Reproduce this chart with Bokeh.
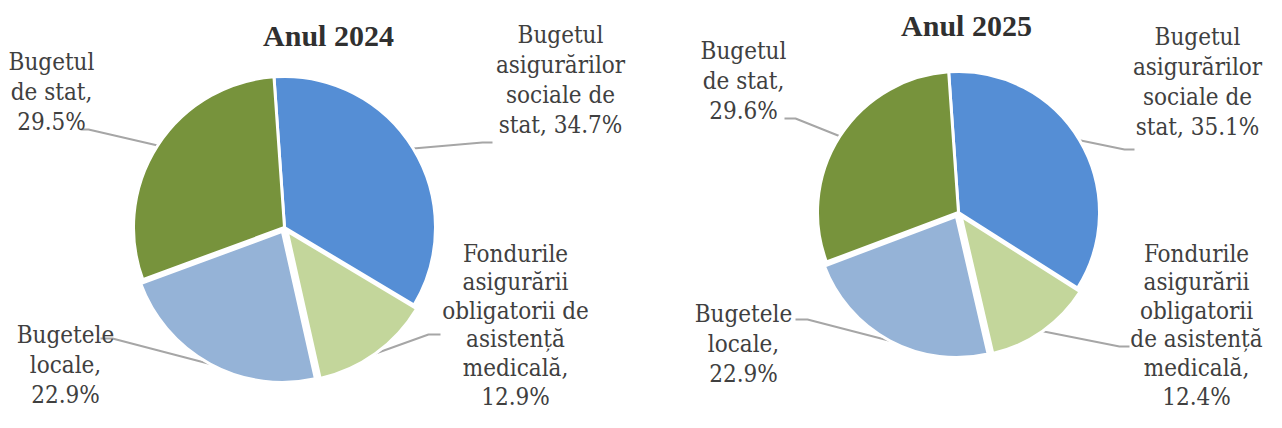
import numpy as np
from bokeh.plotting import figure
from bokeh.models import ColumnDataSource, Range1d
from bokeh.embed import file_html
from bokeh.resources import INLINE
from bokeh.core.properties import value

# ---------------- data ----------------
categories = [
    "Bugetul asigurărilor sociale de stat",
    "Fondurile asigurării obligatorii de asistență medicală",
    "Bugetele locale",
    "Bugetul de stat",
]
years = ["Anul 2024", "Anul 2025"]
shares_2024 = [34.7, 12.9, 22.9, 29.5]
shares_2025 = [35.1, 12.4, 22.9, 29.6]
colors = ["#558ED5", "#C3D69B", "#95B3D7", "#77933C"]
labels_2024 = [
    "Bugetul\nasigurărilor\nsociale de\nstat, ",
    "Fondurile\nasigurării\nobligatorii de\nasistență\nmedicală,\n",
    "Bugetele\nlocale,\n",
    "Bugetul\nde stat,\n",
]
labels_2025 = [
    "Bugetul\nasigurărilor\nsociale de\nstat, ",
    "Fondurile\nasigurării\nobligatorii\nde asistență\nmedicală,\n",
    "Bugetele\nlocale,\n",
    "Bugetul\nde stat,\n",
]

# ---------------- layout (screen pixel coordinates inside the figure) ----------------
W, H = 1266, 412
def Y(sy):
    return H - sy

LABEL_FONT = "DejaVu Serif Condensed, DejaVu Serif"

layout = [
    dict(cx=284, cy=227, r=151, rot=4.0, explode=[0, 4.5, 4.5, 0],
         title=(328, 35),
         label_pos=[(560, 34, 30), (515, 253, 28.6), (65, 334, 30), (51, 61, 30)],
         anchors=[[(492, 142), (482, 142)], [(440, 334), (428, 334)],
                  [(100, 338), (112, 338)], [(80, 129), (88, 129)]]),
    dict(cx=958, cy=212, r=141, rot=4.0, explode=[0, 4.5, 4.5, 0],
         title=(966, 25),
         label_pos=[(1197, 36, 30), (1196, 253, 28.6), (743, 313, 30), (743, 50, 30)],
         anchors=[[(1134, 149), (1124, 149)], [(1129, 346), (1119, 346)],
                  [(795, 319), (807, 319)], [(784, 118), (795, 118)]]),
]

p = figure(width=W, height=H, output_backend="svg", toolbar_location=None,
           x_range=Range1d(0, W), y_range=Range1d(0, H),
           min_border=0, outline_line_color=None, background_fill_color="white")
p.xaxis.visible = False
p.yaxis.visible = False
p.xgrid.visible = False
p.ygrid.visible = False

for shares, labels, lay, year in zip([shares_2024, shares_2025],
                                     [labels_2024, labels_2025], layout, years):
    vals = np.array(shares, dtype=float)
    frac = vals / vals.sum()
    cum_end = np.cumsum(frac)
    cum_start = cum_end - frac
    phi_start = cum_start * 360 - lay["rot"]
    phi_end = cum_end * 360 - lay["rot"]
    phi_mid = (phi_start + phi_end) / 2
    dx = np.sin(np.radians(phi_mid))
    dy = np.cos(np.radians(phi_mid))
    ex = np.array(lay["explode"], dtype=float)
    cxs = lay["cx"] + ex * dx
    cys = Y(lay["cy"]) + ex * dy

    xs, ys = [], []
    for i in range(len(vals)):
        pts = lay["anchors"][i]
        xs.append([pts[0][0], pts[1][0], cxs[i] + lay["r"] * dx[i]])
        ys.append([Y(pts[0][1]), Y(pts[1][1]), cys[i] + lay["r"] * dy[i]])
    p.multi_line(xs=xs, ys=ys, line_color="#A6A6A6", line_width=2)

    src = ColumnDataSource(dict(
        x=cxs, y=cys,
        start=np.radians(90 - phi_end), end=np.radians(90 - phi_start),
        color=colors, cat=categories,
    ))
    p.wedge(x="x", y="y", radius=lay["r"], start_angle="start", end_angle="end",
            direction="anticlock", fill_color="color", line_color="white",
            line_width=3, source=src)

    tx, ty, tt = [], [], []
    for lab, v, (lx, ly, sp) in zip(labels, vals, lay["label_pos"]):
        lines = (lab + f"{v:.1f}%").split("\n")
        for k, line in enumerate(lines):
            tx.append(lx)
            ty.append(Y(ly + k * sp))
            tt.append(line)
    p.text(x=tx, y=ty, text=tt, text_align="center", text_baseline="middle",
           text_font=value(LABEL_FONT), text_font_size="24px",
           text_color="#404040")

    p.text(x=[lay["title"][0]], y=[Y(lay["title"][1])], text=[year],
           text_align="center", text_baseline="middle",
           text_font=value("Liberation Serif"), text_font_style="bold",
           text_font_size="30px", text_color="#303030")

open("out.html", "w").write(file_html(p, INLINE))
